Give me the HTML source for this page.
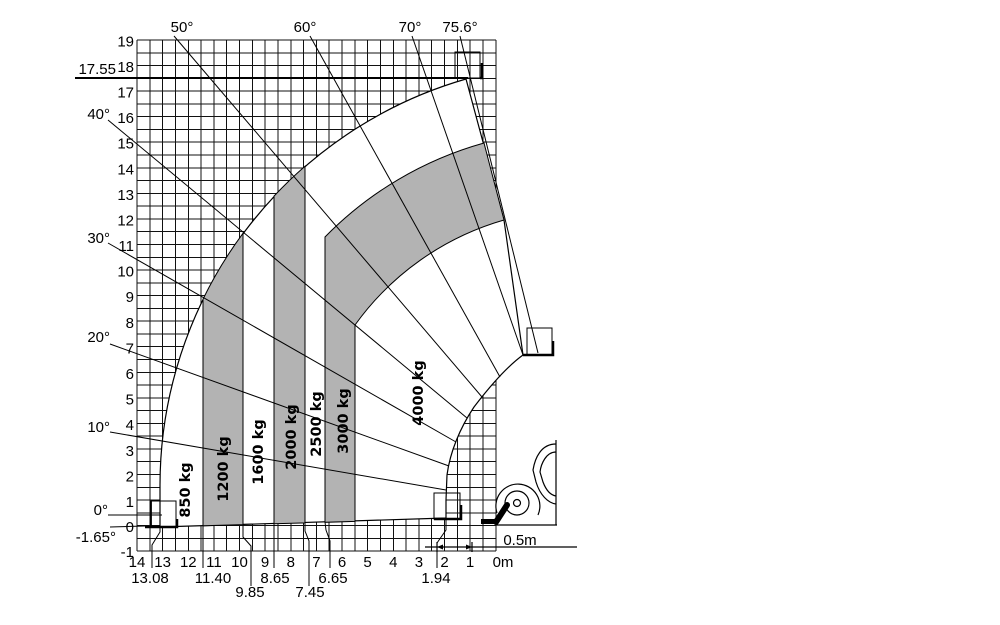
<!DOCTYPE html>
<html><head><meta charset="utf-8"><style>
html,body{margin:0;padding:0;background:#fff;}
svg{display:block;}
text{font-family:"Liberation Sans",sans-serif;font-size:15px;fill:#000;}
.kg{font-family:"DejaVu Sans",sans-serif;font-weight:bold;font-size:14.5px;}
</style></head><body>
<svg width="1000" height="625" viewBox="0 0 1000 625" xmlns="http://www.w3.org/2000/svg">
<g stroke="#111" stroke-width="1" shape-rendering="crispEdges" id="grid">
<path d="M137,40V551M149.8,40V551M162.6,40V551M175.4,40V551M188.3,40V551M201.1,40V551M213.9,40V551M226.7,40V551M239.5,40V551M252.3,40V551M265.1,40V551M277.9,40V551M290.8,40V551M303.6,40V551M316.4,40V551M329.2,40V551M342,40V551M354.8,40V551M367.6,40V551M380.4,40V551M393.3,40V551M406.1,40V551M418.9,40V551M431.7,40V551M444.5,40V551M457.3,40V551M470.1,40V551M482.9,40V551M496,40V551"/>
<path d="M137,40H496M137,52.8H496M137,65.6H496M137,78.3H496M137,91.1H496M137,103.9H496M137,116.7H496M137,129.5H496M137,142.2H496M137,155H496M137,167.8H496M137,180.6H496M137,193.4H496M137,206.1H496M137,218.9H496M137,231.7H496M137,244.5H496M137,257.3H496M137,270H496M137,282.8H496M137,295.6H496M137,308.4H496M137,321.2H496M137,333.9H496M137,346.7H496M137,359.5H496M137,372.3H496M137,385.1H496M137,397.8H496M137,410.6H496M137,423.4H496M137,436.2H496M137,449H496M137,461.7H496M137,474.5H496M137,487.3H496M137,500.1H496M137,512.9H496M137,525.6H496M137,538.4H496M137,551H496"/>
</g>
<path d="M160,527 L160,485 A423,423 0 0 1 466,79 L504,220 L523,355 C505,368 487,390 474,407 C460,428 450,452 447,475 L446,500 L446,518 Z" fill="#fff" stroke="#000" stroke-width="1.2"/>
<g fill="#b3b3b3" stroke="#000" stroke-width="1">
<path d="M203,525.8 L203,299.2 A423,423 0 0 1 243,233.3 L243,524.6 Z"/>
<path d="M274,523.7 L274,196.1 A423,423 0 0 1 305,166.2 L305,522.9 Z"/>
<path d="M325,522.3 L325,237 A357,357 0 0 1 484,143 L504,220 A278,278 0 0 0 355,325 L355,521.4 Z"/>
</g>
<line x1="75" y1="78" x2="468" y2="78" stroke="#000" stroke-width="2"/>
<g stroke="#000" stroke-width="1" fill="none">
<line x1="108" y1="515" x2="162" y2="515"/>
<line x1="110" y1="527" x2="145" y2="526"/>
<line x1="110" y1="432" x2="446" y2="490"/>
<line x1="110" y1="344" x2="449" y2="466"/>
<line x1="108" y1="243" x2="456" y2="442"/>
<line x1="108" y1="120" x2="467" y2="418"/>
<line x1="174" y1="36" x2="482" y2="397"/>
<line x1="310" y1="36" x2="500" y2="377"/>
<line x1="412" y1="36" x2="523" y2="355"/>
<line x1="460" y1="36" x2="538" y2="353"/>
<polyline points="160,527 160,532 152,545 152,568"/>
<polyline points="203,526 203,568"/>
<polyline points="243,525 243,537 251,546 251,586"/>
<polyline points="274,524 274,568"/>
<polyline points="305,523 305,531 309,541 309,586"/>
<polyline points="325,522 326,530 330,541 330,568"/>
<polyline points="446,518 446,530 437,543 437,568"/>
<rect x="455" y="52" width="25" height="26"/>
<rect x="527" y="328" width="25" height="27"/>
<rect x="151" y="501" width="25" height="26"/>
<rect x="434" y="493" width="26" height="26"/>
</g>
<g stroke="#000" stroke-width="2.5" fill="none">
<polyline points="480,78 482,78 482,63"/>
<polyline points="523,355 553,355 553,341"/>
<polyline points="145,527 177,527 177,519"/>
<line x1="151" y1="501" x2="151" y2="527" stroke-width="1.8"/>
<polyline points="434,519 461,519 461,505"/>
</g>
<g stroke="#000" stroke-width="1.2" fill="none">
<path d="M497,513 A22,22 0 1 1 538,515"/>
<circle cx="517" cy="503" r="12"/>
<circle cx="517" cy="503" r="3.5"/>
<line x1="496" y1="525" x2="557" y2="525"/>
<line x1="556" y1="440" x2="556" y2="525"/>
<path d="M556,444 C541,444 535,458 533,470 L536,482 C540,495 548,503 556,504"/>
<path d="M556,452 C546,452 541,464 540,472 L543,482 C546,490 550,495 556,496"/>
<line x1="425" y1="547" x2="577" y2="547"/>
<line x1="437" y1="542" x2="437" y2="552"/>
<line x1="472" y1="542" x2="472" y2="552"/>
</g>
<line x1="496" y1="522" x2="507" y2="505" stroke="#000" stroke-width="6" stroke-linecap="round"/>
<rect x="481" y="519" width="17" height="5" fill="#000"/>
<path d="M437,547 l6,-2.5 v5 z M472,547 l-6,-2.5 v5 z" fill="#000"/>
<g text-anchor="end">
<text x="134" y="46.5">19</text><text x="134" y="72">18</text><text x="134" y="97.5">17</text><text x="134" y="123">16</text><text x="134" y="148.7">15</text><text x="134" y="174.3">14</text><text x="134" y="199.9">13</text><text x="134" y="225.5">12</text><text x="134" y="251">11</text><text x="134" y="276.6">10</text><text x="134" y="302.2">9</text><text x="134" y="327.8">8</text><text x="134" y="353.4">7</text><text x="134" y="379">6</text><text x="134" y="404.6">5</text><text x="134" y="430.2">4</text><text x="134" y="455.8">3</text><text x="134" y="481.4">2</text><text x="134" y="507">1</text><text x="134" y="532">0</text><text x="134" y="557">-1</text>
<text x="116" y="74">17.55</text>
<text x="110" y="119">40°</text>
<text x="110" y="243">30°</text>
<text x="110" y="342">20°</text>
<text x="110" y="432">10°</text>
<text x="108" y="515">0°</text>
<text x="116" y="542">-1.65°</text>
</g>
<g text-anchor="middle">
<text x="182" y="32">50°</text><text x="305" y="32">60°</text><text x="410" y="32">70°</text><text x="460" y="32">75.6°</text>
<text x="137" y="567">14</text><text x="162.6" y="567">13</text><text x="188.3" y="567">12</text><text x="213.9" y="567">11</text><text x="239.5" y="567">10</text><text x="265.1" y="567">9</text><text x="290.8" y="567">8</text><text x="316.4" y="567">7</text><text x="342" y="567">6</text><text x="367.6" y="567">5</text><text x="393.3" y="567">4</text><text x="418.9" y="567">3</text><text x="444.5" y="567">2</text><text x="470.1" y="567">1</text><text x="503" y="567">0m</text>
<text x="150" y="583">13.08</text><text x="213" y="583">11.40</text><text x="275" y="583">8.65</text><text x="333" y="583">6.65</text><text x="436" y="583">1.94</text>
<text x="250" y="597">9.85</text><text x="310" y="597">7.45</text>
<text x="520" y="545">0.5m</text>
</g>
<g class="kg" text-anchor="middle">
<text class="kg" transform="translate(190,490) rotate(-90)">850 kg</text>
<text class="kg" transform="translate(228,469) rotate(-90)">1200 kg</text>
<text class="kg" transform="translate(263,452) rotate(-90)">1600 kg</text>
<text class="kg" transform="translate(296,437) rotate(-90)">2000 kg</text>
<text class="kg" transform="translate(321,424) rotate(-90)">2500 kg</text>
<text class="kg" transform="translate(348,421) rotate(-90)">3000 kg</text>
<text class="kg" transform="translate(423,393) rotate(-90)">4000 kg</text>
</g>
</svg>
</body></html>
